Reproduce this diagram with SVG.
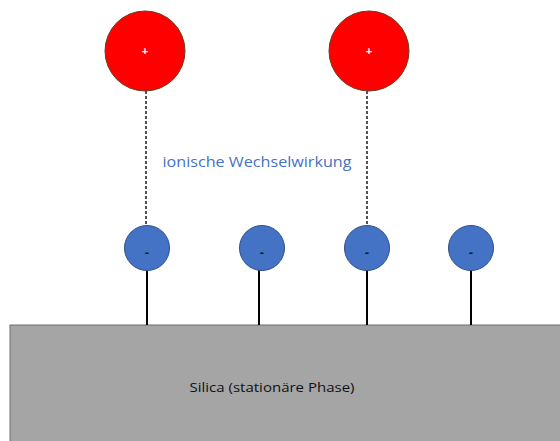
<svg xmlns="http://www.w3.org/2000/svg" width="560" height="441" viewBox="0 0 560 441">
  <style>
    .cation { fill: #ff0000; stroke: #6b3a1f; stroke-width: 1; }
    .anion { fill: #4472c4; stroke: #2f4f86; stroke-width: 1; }
    .stem { stroke: #000; stroke-width: 2; }
    .bond { stroke: #1a1a1a; stroke-width: 1.5; stroke-dasharray: 3 2; fill: none; }
    .plus { fill: #fff; font-family: "Liberation Sans", Arial, sans-serif; font-size: 11px; font-weight: bold; text-anchor: middle; }
    .minus { fill: #1a1a1a; font-family: "Liberation Sans", Arial, sans-serif; font-size: 13px; font-weight: bold; text-anchor: middle; }
    .label { font-family: "Open Sans", "Liberation Sans", sans-serif; text-anchor: middle; }
  </style>
  <rect width="560" height="441" fill="#fff"/>

  <!-- stationary phase -->
  <g id="silica">
    <rect x="10" y="325" width="560" height="130" fill="#a5a5a5" stroke="#6e6e6e" stroke-width="1"/>
    <text class="label" x="272" y="392" font-size="13.5" fill="#111" textLength="165" lengthAdjust="spacingAndGlyphs">Silica (stationäre Phase)</text>
  </g>

  <!-- connectors: stems and ionic interactions -->
  <g id="connectors">
    <line class="stem" x1="147" y1="269" x2="147" y2="325"/>
    <line class="stem" x1="259" y1="269" x2="259" y2="325"/>
    <line class="stem" x1="367" y1="269" x2="367" y2="325"/>
    <line class="stem" x1="471" y1="269" x2="471" y2="325"/>
    <line class="bond" x1="146" y1="91" x2="146" y2="226"/>
    <line class="bond" x1="367" y1="91" x2="367" y2="226"/>
  </g>

  <!-- anions bound to the surface -->
  <g id="anion1"><circle class="anion" cx="147" cy="248" r="22.5"/><text class="minus" x="147" y="257">-</text></g>
  <g id="anion2"><circle class="anion" cx="262" cy="248" r="22.5"/><text class="minus" x="262" y="257">-</text></g>
  <g id="anion3"><circle class="anion" cx="367" cy="248" r="22.5"/><text class="minus" x="367" y="257">-</text></g>
  <g id="anion4"><circle class="anion" cx="471" cy="248" r="22.5"/><text class="minus" x="471" y="257">-</text></g>

  <!-- cations -->
  <g id="cation1"><circle class="cation" cx="145" cy="51" r="40"/><text class="plus" x="145" y="55">+</text></g>
  <g id="cation2"><circle class="cation" cx="369" cy="51" r="40"/><text class="plus" x="369" y="55">+</text></g>

  <g id="interaction-label">
    <text class="label" x="257" y="167" font-size="15" fill="#4472c4" textLength="189" lengthAdjust="spacingAndGlyphs">ionische Wechselwirkung</text>
  </g>
</svg>
